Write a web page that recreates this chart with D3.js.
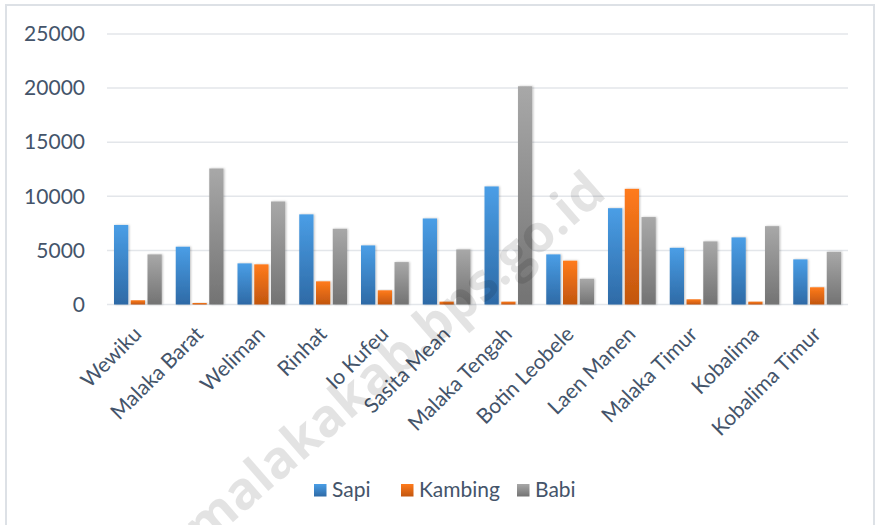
<!DOCTYPE html>
<html>
<head>
<meta charset="utf-8">
<script src="https://cdn.jsdelivr.net/npm/d3@7"></script>
<style>
  body { margin: 0; background: #fff; }
  text { font-family: Lato, "Open Sans", sans-serif; fill: #44546a; }
</style>
</head>
<body>
<script>
// kecamatan (districts)
var categories = ['Wewiku', 'Malaka Barat', 'Weliman', 'Rinhat', 'Io Kufeu', 'Sasita Mean',
  'Malaka Tengah', 'Botin Leobele', 'Laen Manen', 'Malaka Timur', 'Kobalima', 'Kobalima Timur']
var seriesNames = ['Sapi', 'Kambing', 'Babi']
var sapi    = [7350, 5340, 3800, 8330, 5460, 7950, 10910, 4630, 8900, 5240, 6200, 4170]
var kambing = [390, 140, 3710, 2140, 1310, 260, 260, 4050, 10690, 480, 260, 1590]
var babi    = [4630, 12570, 9520, 7000, 3920, 5090, 20170, 2380, 8080, 5830, 7240, 4870]
var yTicks  = [0, 5000, 10000, 15000, 20000, 25000]

var W = 876, H = 525
var plot = {left: 107, right: 848, top: 34, bottom: 304.5}
var colors = {
  Sapi: ['#4a9ee6', '#2e6aa6'],
  Kambing: ['#ff7b1c', '#c2560f'],
  Babi: ['#a8a8a8', '#737373']
}

var svg = d3.select('body').append('svg')
    .attr('width', W)
    .attr('height', H)

var defs = svg.append('defs')
seriesNames.forEach(function(s, i) {
  var g = defs.append('linearGradient')
      .attr('id', 'grad' + i)
      .attr('x1', 0).attr('y1', 0).attr('x2', 0).attr('y2', 1)
  g.append('stop').attr('offset', '0%').attr('stop-color', colors[s][0])
  g.append('stop').attr('offset', '100%').attr('stop-color', colors[s][1])
})
var f = defs.append('filter').attr('id', 'shadow')
    .attr('x', '-30%').attr('y', '-5%').attr('width', '160%').attr('height', '110%')
f.append('feDropShadow').attr('dx', 1).attr('dy', 0).attr('stdDeviation', 1.2)
  .attr('flood-color', '#000').attr('flood-opacity', 0.25)

// outer border
svg.append('rect')
  .attr('x', 6).attr('y', 5)
  .attr('width', 868).attr('height', 540)
  .attr('fill', 'none')
  .attr('stroke', '#dde1e6')
  .attr('stroke-width', 2)

var x0 = d3.scaleBand()
  .domain(categories)
  .range([plot.left, plot.right])

var x1 = d3.scaleBand()
  .domain(seriesNames)
  .range([7, x0.bandwidth() - 7])
  .paddingInner(0.15)

var y = d3.scaleLinear()
  .domain([0, 25000])
  .range([plot.bottom, plot.top])

// gridlines
svg.append('g')
  .selectAll('line')
  .data(yTicks)
  .enter().append('line')
    .attr('x1', plot.left).attr('x2', plot.right)
    .attr('y1', d => y(d)).attr('y2', d => y(d))
    .attr('stroke', '#e3e6ea')
    .attr('stroke-width', 1.5)

// y axis labels
var yAxis = svg.append('g')
    .attr('transform', 'translate(' + plot.left + ',0)')
    .call(d3.axisLeft(y).tickValues(yTicks).tickFormat(d3.format('d')).tickSize(0).tickPadding(22))
yAxis.select('.domain').remove()
yAxis.selectAll('text')
  .attr('font-size', 21)
  .attr('fill', '#44546a')
  .style('font-family', 'Lato, "Open Sans", sans-serif')

// bars
var rows = categories.map(function(c, i) {
  return {cat: c, vals: [sapi[i], kambing[i], babi[i]]}
})

var groups = svg.append('g').selectAll('g')
  .data(rows)
  .enter().append('g')
    .attr('transform', d => 'translate(' + x0(d.cat) + ',0)')

groups.selectAll('rect')
  .data(d => d.vals.map((v, i) => ({s: seriesNames[i], i: i, v: v})))
  .enter().append('rect')
    .attr('x', d => x1(d.s))
    .attr('y', d => y(d.v))
    .attr('width', x1.bandwidth())
    .attr('height', d => y(0) - y(d.v))
    .attr('fill', d => 'url(#grad' + d.i + ')')
    .attr('filter', 'url(#shadow)')

// x axis labels
var xAxis = svg.append('g')
    .attr('transform', 'translate(0,' + plot.bottom + ')')
    .call(d3.axisBottom(x0).tickSize(0).tickPadding(0))
xAxis.select('.domain').remove()
xAxis.selectAll('text')
  .attr('font-size', 21)
  .attr('fill', '#44546a')
  .style('font-family', 'Lato, "Open Sans", sans-serif')
  .attr('text-anchor', 'end')
  .attr('dy', 0)
  .attr('transform', 'translate(5,31) rotate(-45)')

// legend
var legend = svg.append('g')
    .attr('transform', 'translate(314,484)')
var lx = [0, 87, 203]
seriesNames.forEach(function(s, i) {
  var it = legend.append('g').attr('transform', 'translate(' + lx[i] + ',0)')
  it.append('rect')
    .attr('width', 12.5).attr('height', 12.5)
    .attr('fill', 'url(#grad' + i + ')')
  it.append('text')
    .attr('x', 18).attr('y', 13)
    .attr('font-size', 21)
    .text(s)
})

// watermark
svg.append('text')
  .attr('transform', 'translate(608,196) rotate(-41)')
  .attr('text-anchor', 'end')
  .attr('font-size', 52)
  .attr('font-weight', 'bold')
  .style('font-family', '"Open Sans", sans-serif')
  .style('fill', '#000')
  .style('fill-opacity', 0.11)
  .text('malakakab.bps.go.id')
</script>
</body>
</html>
